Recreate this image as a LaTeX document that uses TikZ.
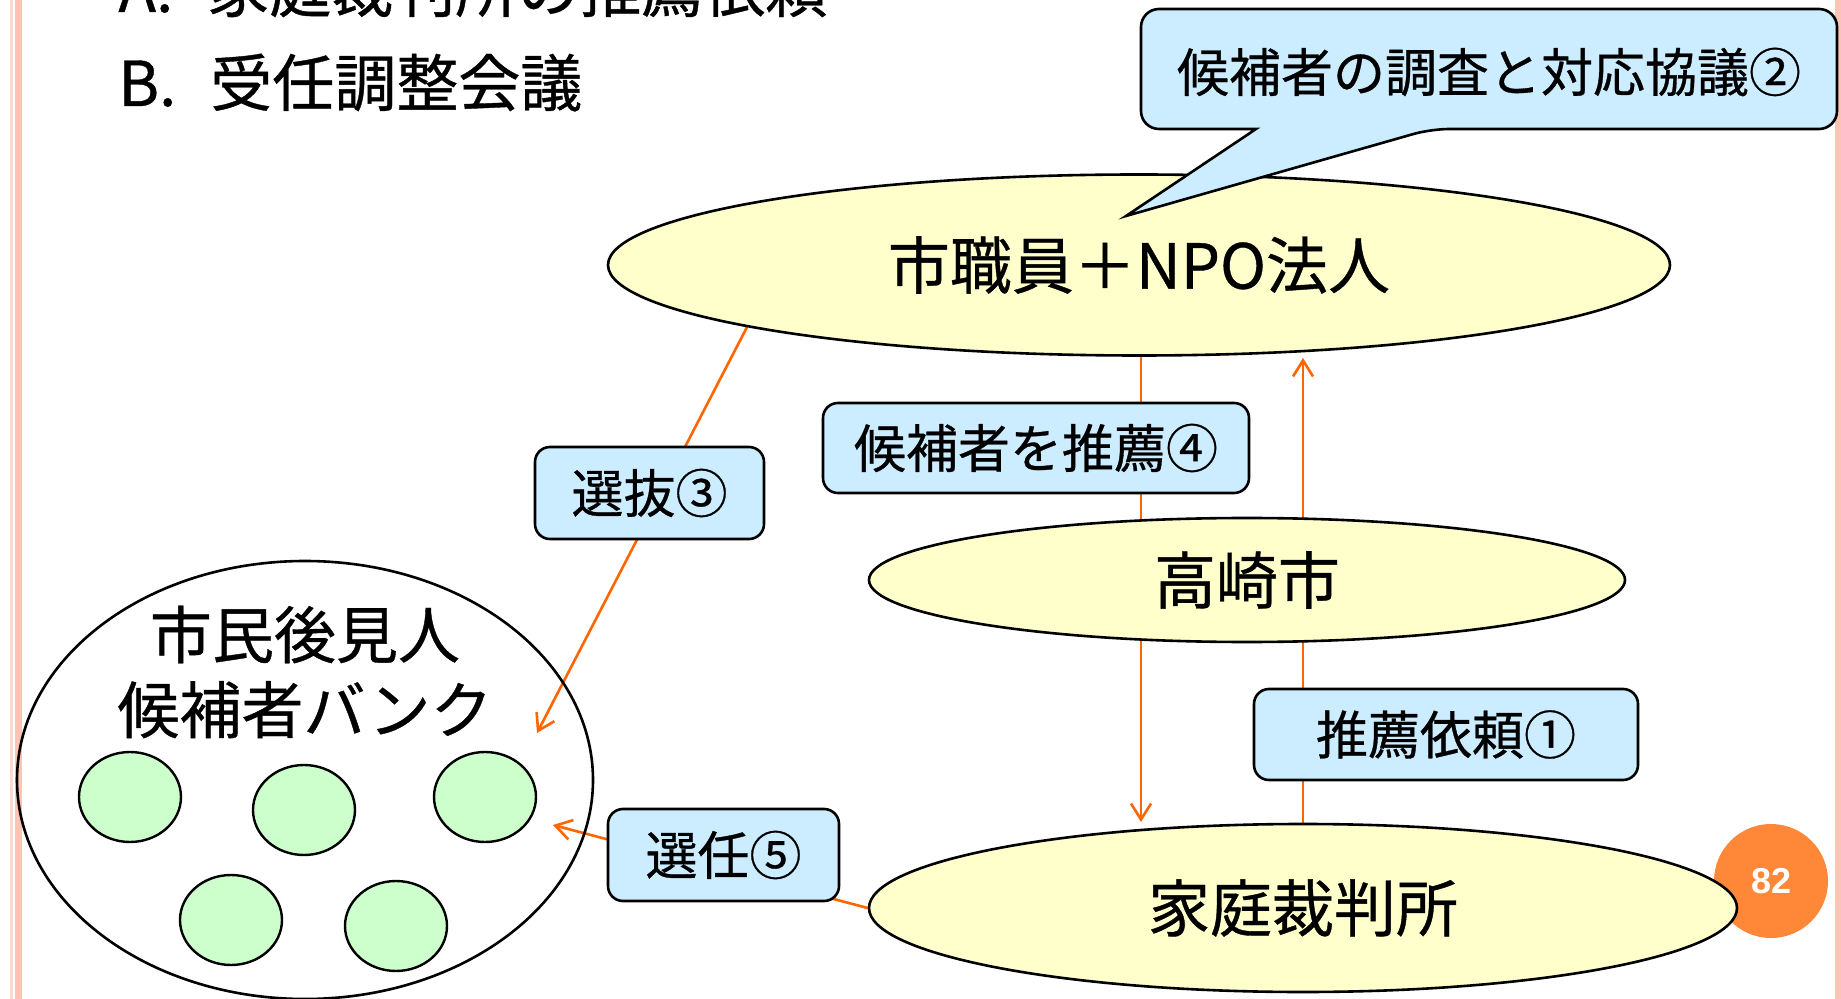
\documentclass[tikz,border=0pt]{standalone}
\usepackage{fontspec}
\setmainfont{Noto Sans CJK JP}[FakeBold=0.6]
\newfontfamily\numfont{Liberation Sans}
\usetikzlibrary{shapes.geometric,arrows.meta}
\definecolor{ylw}{RGB}{255,255,204}
\definecolor{lblue}{RGB}{204,236,255}
\definecolor{lgreen}{RGB}{204,255,204}
\definecolor{org}{RGB}{255,102,0}
\definecolor{pgorange}{RGB}{254,136,56}
\definecolor{pinkA}{RGB}{252,196,180}
\definecolor{pinkB}{RGB}{253,218,206}
\pgfdeclarelayer{bg}
\pgfdeclarelayer{lines}
\pgfsetlayers{bg,lines,main}
\begin{document}
\begin{tikzpicture}[x=0.5pt,y=-0.5pt,
  ell/.style={ellipse,draw=black,line width=1.3pt,fill=ylw,inner sep=0pt,font=\fontsize{31}{36}\selectfont},
  lbl/.style={draw=black,line width=1.3pt,fill=lblue,rounded corners=7.5pt,inner sep=0pt,font=\fontsize{26}{30}\selectfont},
  seed/.style={ellipse,draw=black,line width=1.2pt,fill=lgreen,minimum width=51pt,minimum height=45pt,inner sep=0pt},
  arr/.style={draw=org,line width=1.3pt,-{Straight Barb[length=8pt,width=10pt]}},
  ttl/.style={anchor=base west,inner sep=0pt,font=\fontsize{31}{36}\selectfont}]
\useasboundingbox (0,0) rectangle (1841,999);
\clip (0,0) rectangle (1841,999);
\begin{pgfonlayer}{bg}
\fill[white] (0,0) rectangle (1841,999);
\fill[pinkB] (10,0) rectangle (12.5,999);
\fill[pinkA] (15,0) rectangle (22,999);
\fill[pinkA] (1835,0) rectangle (1841,999);
\end{pgfonlayer}
% titles
\node[ttl] (titleA) at (118,12) {A.\hspace{17pt}家庭裁判所の推薦依頼};
\node[ttl] (titleB) at (118,106) {B.\hspace{17pt}受任調整会議};
% page number
\node[circle,fill=pgorange,minimum size=57pt,inner sep=0pt,text=white,font=\numfont\bfseries\fontsize{18}{20}\selectfont] (pg) at (1771,881) {82};
% ellipses
\node[ell,minimum width=531pt,minimum height=90.5pt] (e1) at (1139,265) {市職員＋NPO法人};
\node[ell,minimum width=378pt,minimum height=62pt] (e2) at (1247,580) {高崎市};
\node[ell,minimum width=434pt,minimum height=84pt] (e3) at (1303,908) {家庭裁判所};
% callout
\draw[fill=lblue,line width=1.3pt,rounded corners=9pt] (1141,69) -- (1141,9) -- (1837,9) -- (1837,129) -- (1431,129) [sharp corners] -- (1126,216) -- (1256,129) [rounded corners=9pt] -- (1141,129) -- cycle;
\node[font=\fontsize{26}{30}\selectfont] (calloutText) at (1489,72) {候補者の調査と対応協議②};
% bank
\node[ellipse,draw=black,line width=1.3pt,minimum width=288pt,minimum height=219pt,inner sep=0pt] (bank) at (305,780) {};
\node[align=center,font=\fontsize{31}{37.5}\selectfont] (banktxt) at (305,672) {市民後見人\\候補者バンク};
\node[seed] (s1) at (130,797) {};
\node[seed] (s2) at (304,810) {};
\node[seed] (s3) at (485,797) {};
\node[seed] (s4) at (231,920) {};
\node[seed] (s5) at (396,926) {};
% labels
\node[lbl,minimum width=114.5pt,minimum height=46pt] (b3) at (649.5,493) {選抜③};
\node[lbl,minimum width=213pt,minimum height=45pt] (b4) at (1036,448) {候補者を推薦④};
\node[lbl,minimum width=192pt,minimum height=45.5pt] (b1) at (1446,734.5) {推薦依頼①};
\node[lbl,minimum width=115.5pt,minimum height=46pt] (b5) at (723.5,855) {選任⑤};
% arrow ends
\coordinate (t3) at (537,733);
\coordinate (t5) at (553,825);
\coordinate (t4) at (1141,822);
\coordinate (t1) at (1303,358);
\begin{pgfonlayer}{lines}
\draw[arr] (e1.189.8) -- (t3);
\draw[arr] (e3.west) -- (t5);
\draw[arr] (e1.south -| t4) -- (t4);
\draw[arr] (e3.north) -- (t1);
\end{pgfonlayer}
\end{tikzpicture}
\end{document}
